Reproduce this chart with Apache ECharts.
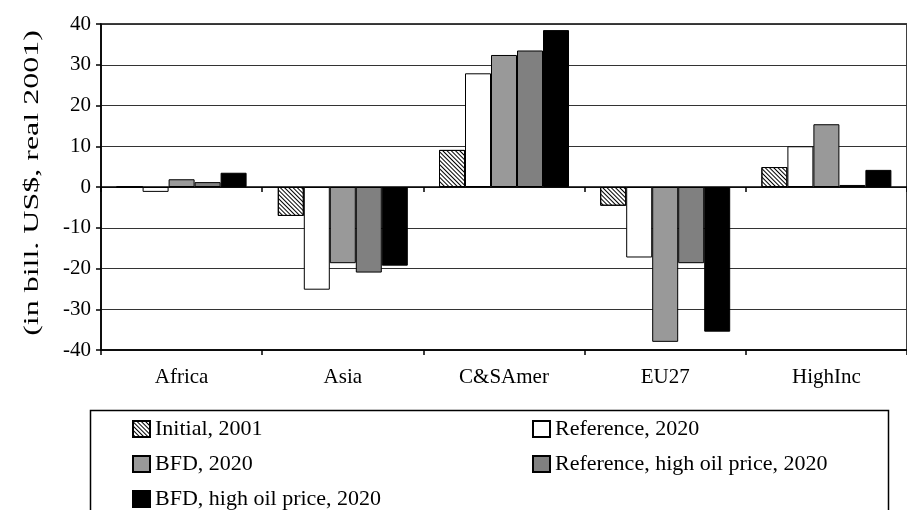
<!DOCTYPE html>
<html>
<head>
<meta charset="utf-8">
<script src="https://cdn.jsdelivr.net/npm/echarts@6/dist/echarts.min.js"></script>
<style>html,body{margin:0;padding:0;background:#fff;}#c{width:907px;height:510px;}</style>
</head>
<body>
<div id="c"></div>
<script>
const categories = ['Africa', 'Asia', 'C&SAmer', 'EU27', 'HighInc'];
const initial2001 = [0, -7.1, 9.1, -4.6, 4.9];
const reference2020 = [-1.2, -25.2, 27.9, -17.3, 10.0];
const bfd2020 = [1.9, -18.7, 32.4, -38.0, 15.4];
const referenceHighOil2020 = [1.2, -21.0, 33.5, -18.7, 0.5];
const bfdHighOil2020 = [3.5, -19.3, 38.5, -35.5, 4.2];
const yTicks = [-40, -30, -20, -10, 0, 10, 20, 30, 40];
const legendNames = ['Initial, 2001', 'Reference, 2020', 'BFD, 2020', 'Reference, high oil price, 2020', 'BFD, high oil price, 2020'];

const FONT = 'Liberation Serif';
const chart = echarts.init(document.getElementById('c'));

function bar(name, data, color, extra) {
  return {
    name: name, type: 'bar', data: data, barWidth: 26, barGap: '0%',
    xAxisIndex: 0,
    itemStyle: Object.assign({ color: color, borderColor: '#000', borderWidth: 1 }, extra || {}),
    emphasis: { disabled: true },
    animation: false
  };
}

const legendPos = [[132, 418], [532, 418], [132, 453], [532, 453], [132, 488]];
const legends = legendNames.map((n, i) => ({
  data: [n], orient: 'horizontal', left: legendPos[i][0], top: legendPos[i][1],
  itemWidth: 17, itemHeight: 16, icon: 'rect', selectedMode: false, padding: 0,
  textStyle: { color: '#000', fontFamily: FONT, fontSize: 22 }
}));

chart.setOption({
  backgroundColor: '#fff',
  animation: false,
  grid: { left: 101, top: 24, right: -11, bottom: 160, show: true, borderColor: '#000', borderWidth: 1.5, backgroundColor: 'transparent' },
  xAxis: [
    { type: 'category', data: categories, position: 'bottom',
      axisLine: { onZero: true, lineStyle: { color: '#000', width: 1.5 } },
      axisTick: { show: true, length: 5, inside: false, lineStyle: { color: '#000', width: 1.5 } },
      axisLabel: { show: false }, splitLine: { show: false } },
    { type: 'category', data: categories, position: 'bottom', gridIndex: 0,
      axisLine: { onZero: false, lineStyle: { color: '#000', width: 1.5 } },
      axisTick: { show: true, length: 5, lineStyle: { color: '#000', width: 1.5 } },
      axisLabel: { show: true, margin: 17, color: '#000', fontFamily: FONT, fontSize: 21 },
      splitLine: { show: false } }
  ],
  yAxis: {
    type: 'value', min: yTicks[0], max: yTicks[yTicks.length - 1], interval: 10,
    axisLine: { show: true, lineStyle: { color: '#000', width: 1.5 } },
    axisTick: { show: true, length: 5, lineStyle: { color: '#000', width: 1.5 } },
    axisLabel: { color: '#000', fontFamily: FONT, fontSize: 21, margin: 10 },
    splitLine: { show: true, lineStyle: { color: '#333', width: 1.2 } }
  },
  legend: legends,
  graphic: [
    { type: 'rect', left: 88, top: 408, shape: { width: 798, height: 140 },
      style: { fill: 'none', stroke: '#000', lineWidth: 1.5 }, silent: true },
    { type: 'text', x: 33, y: 183, rotation: Math.PI / 2, scaleX: 1.6, scaleY: 1,
      style: { text: '(in bill. US$, real 2001)', fontFamily: FONT, fontSize: 20, fill: '#000', align: 'center', verticalAlign: 'middle' },
      silent: true }
  ],
  series: [
    bar(legendNames[0], initial2001, '#fff', { decal: { symbol: 'rect', symbolSize: 1, dashArrayX: [1, 0], dashArrayY: [1, 1.5], rotation: Math.PI / 4, color: '#000' } }),
    bar(legendNames[1], reference2020, '#fff'),
    bar(legendNames[2], bfd2020, '#999999'),
    bar(legendNames[3], referenceHighOil2020, '#808080'),
    bar(legendNames[4], bfdHighOil2020, '#000')
  ]
});
</script>
</body>
</html>
